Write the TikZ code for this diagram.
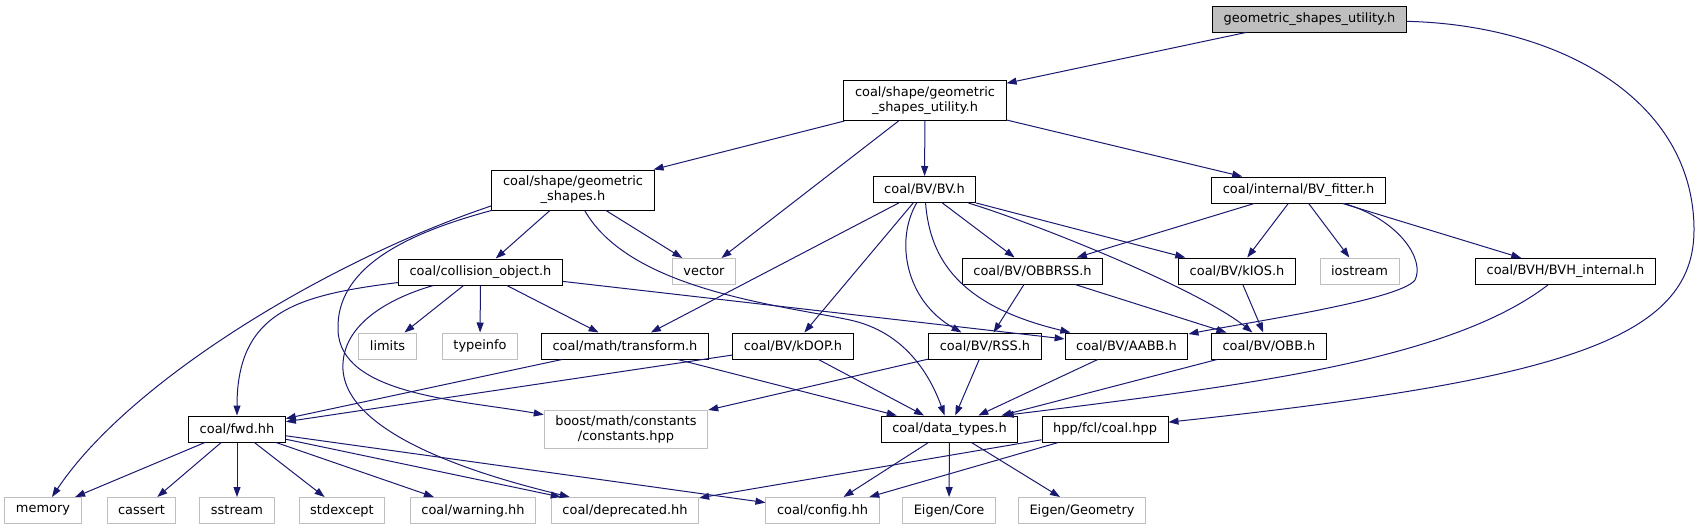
\documentclass[tikz,border=0pt]{standalone}
\usepackage{fontspec}
\setmainfont{DejaVu Sans}
\usetikzlibrary{arrows.meta}
\definecolor{edgeblue}{HTML}{191970}
\definecolor{grey75}{HTML}{BFBFBF}

\begin{document}
\begin{tikzpicture}[x=0.75pt, y=-0.75pt,
  font=\fontsize{9.7}{11.25}\selectfont,
  hdr/.style={draw=black, line width=0.75pt, rectangle, inner xsep=8.3pt, inner ysep=0pt, minimum height=19.5pt, align=center},
  sys/.style={hdr, draw=grey75},
  tall/.style={minimum height=30pt},
  dep/.style={draw=edgeblue, line width=0.75pt, -{Triangle[length=7.5pt,width=5.25pt]}}]
\useasboundingbox (0,0) rectangle (1701,529);

% headers, top to bottom
\node[hdr, fill=grey75] (root) at (1309.5,19) {geometric\_shapes\_utility.h};
\node[hdr, tall] (csgu) at (925,100.5) {coal/shape/geometric\\\_shapes\_utility.h};
\node[hdr, tall] (gs) at (573,190) {coal/shape/geometric\\\_shapes.h};
\node[hdr] (bv) at (924.5,189.5) {coal/BV/BV.h};
\node[hdr] (fitter) at (1298.5,190) {coal/internal/BV\_fitter.h};
\node[hdr] (coll) at (480.5,272) {coal/collision\_object.h};
\node[sys] (vector) at (704,271.5) {vector};
\node[hdr] (obbrss) at (1032.5,271) {coal/BV/OBBRSS.h};
\node[hdr] (kios) at (1237,271) {coal/BV/kIOS.h};
\node[sys] (iostream) at (1359.5,271) {iostream};
\node[hdr] (bvhint) at (1565.5,271.5) {coal/BVH/BVH\_internal.h};
\node[sys] (limits) at (387.5,346) {limits};
\node[sys] (typeinfo) at (480,346) {typeinfo};
\node[hdr] (transform) at (625,346) {coal/math/transform.h};
\node[hdr] (kdop) at (793,346) {coal/BV/kDOP.h};
\node[hdr] (rss) at (985,346) {coal/BV/RSS.h};
\node[hdr] (aabb) at (1126.5,346) {coal/BV/AABB.h};
\node[hdr] (obb) at (1269,346) {coal/BV/OBB.h};
\node[hdr] (fwd) at (237,429) {coal/fwd.hh};
\node[sys, minimum height=28.5pt] (boost) at (626,429) {boost/math/constants\\/constants.hpp};
\node[hdr] (dtypes) at (949.5,429) {coal/data\_types.h};
\node[hdr] (hpp) at (1105,429) {hpp/fcl/coal.hpp};
\foreach \n/\x/\t in {memory/43/memory, cassert/141.5/cassert, sstream/237/sstream,
  stdexcept/342/stdexcept, warning/473/{coal/warning.hh}, deprecated/625/{coal/deprecated.hh},
  config/822.5/{coal/config.hh}, eigencore/949/{Eigen/Core}, eigengeom/1082/{Eigen/Geometry}}
  \node[sys] (\n) at (\x,510.5) {\t};

% straight includes
\foreach \a/\b in {root/csgu, csgu/gs, csgu/vector, csgu/bv, csgu/fitter, gs/coll, gs/vector,
  bv/transform, bv/kdop, bv/obbrss, bv/kios, fitter/obbrss, fitter/kios, fitter/iostream,
  fitter/bvhint, coll/limits, coll/typeinfo, coll/transform, coll/aabb, obbrss/rss, obbrss/obb,
  kios/obb, transform/fwd, transform/dtypes, kdop/fwd, kdop/dtypes, rss/boost, rss/dtypes,
  aabb/dtypes, obb/dtypes, fwd/memory, fwd/cassert, fwd/sstream, fwd/stdexcept, fwd/warning,
  fwd/deprecated, fwd/config, dtypes/config, dtypes/eigencore, dtypes/eigengeom,
  hpp/deprecated, hpp/config}
  \draw[dep] (\a) -- (\b);

% curved includes
\draw[dep] (root) .. controls (1560,25) and (1694,100) .. (1694,230) .. controls (1694,340) and (1560,380) .. (hpp);
\draw[dep] (gs.191) .. controls (330,260) and (130,380) .. (memory);
\draw[dep] (gs.south west) .. controls (400,235) and (336,270) .. (338,330) .. controls (340,395) and (460,400) .. (boost);
\draw[dep] (gs) .. controls (630,290) and (780,305) .. (850,320) .. controls (905,332) and (930,375) .. (dtypes);
\draw[dep] (coll) .. controls (300,295) and (237,310) .. (fwd);
\draw[dep] (coll) .. controls (400,295) and (340,320) .. (343,370) .. controls (348,440) and (500,480) .. (deprecated);
\draw[dep] (bv) .. controls (895,240) and (905,300) .. (rss);
\draw[dep] (bv) .. controls (930,260) and (960,306) .. (aabb);
\draw[dep] (bv) .. controls (1040,225) and (1200,290) .. (obb);
\draw[dep] (fitter) .. controls (1400,220) and (1425,260) .. (1415,280) .. controls (1400,300) and (1250,322) .. (aabb);
\draw[dep] (bvhint) .. controls (1450,360) and (1250,385) .. (dtypes.14);
\end{tikzpicture}
\end{document}
